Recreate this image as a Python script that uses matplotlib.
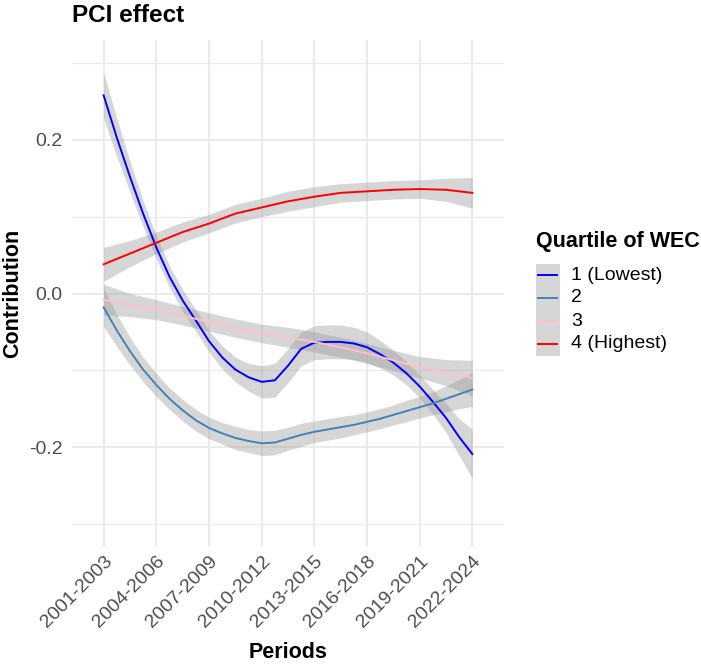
import matplotlib
matplotlib.use('Agg')
import matplotlib.pyplot as plt
from matplotlib.patches import Rectangle
from matplotlib.lines import Line2D

plt.rcParams['font.family'] = ['Liberation Sans', 'DejaVu Sans']

# --- Data (smoothed curves) ---
periods = ['2001-2003', '2004-2006', '2007-2009', '2010-2012',
           '2013-2015', '2016-2018', '2019-2021', '2022-2024']

# quartiles 1 and 2 read at every quarter period (they bend more)
x_fine = [1, 1.25, 1.5, 1.75, 2, 2.25, 2.5, 2.75, 3, 3.25, 3.5, 3.75, 4,
          4.25, 4.5, 4.75, 5, 5.25, 5.5, 5.75, 6, 6.25, 6.5, 6.75, 7,
          7.25, 7.5, 7.75, 8]
# quartiles 3 and 4 read at every half period
x_half = [1, 1.5, 2, 2.5, 3, 3.5, 4, 4.5, 5, 5.5, 6, 6.5, 7, 7.5, 8]

q1 = [0.258, 0.203, 0.152, 0.104, 0.060, 0.022, -0.009, -0.035, -0.062,
      -0.083, -0.099, -0.109, -0.115, -0.113, -0.094, -0.072, -0.064,
      -0.063, -0.063, -0.065, -0.070, -0.079, -0.090, -0.104, -0.121,
      -0.141, -0.162, -0.187, -0.209]
q1_se = [0.030, 0.025, 0.020, 0.017, 0.015, 0.014, 0.014, 0.014, 0.014,
         0.015, 0.016, 0.018, 0.021, 0.022, 0.022, 0.022, 0.022, 0.022,
         0.022, 0.021, 0.020, 0.018, 0.016, 0.015, 0.015, 0.016, 0.019,
         0.024, 0.032]

q2 = [-0.018, -0.048, -0.075, -0.099, -0.119, -0.137, -0.152, -0.165,
      -0.175, -0.182, -0.188, -0.192, -0.195, -0.194, -0.189, -0.184,
      -0.180, -0.177, -0.174, -0.171, -0.167, -0.163, -0.158, -0.153,
      -0.148, -0.143, -0.137, -0.131, -0.125]
q2_se = [0.025, 0.021, 0.018, 0.016, 0.015, 0.014, 0.014, 0.014, 0.014,
         0.014, 0.015, 0.015, 0.016, 0.016, 0.015, 0.015, 0.014, 0.014,
         0.014, 0.013, 0.013, 0.013, 0.013, 0.014, 0.014, 0.015, 0.017,
         0.019, 0.022]

q3 = [-0.008, -0.015, -0.021, -0.029, -0.037, -0.045, -0.052, -0.057,
      -0.063, -0.070, -0.078, -0.087, -0.096, -0.103, -0.110]
q3_se = [0.020, 0.015, 0.013, 0.012, 0.012, 0.012, 0.012, 0.013,
         0.013, 0.013, 0.013, 0.013, 0.014, 0.017, 0.023]

q4 = [0.038, 0.052, 0.066, 0.080, 0.091, 0.104, 0.112, 0.120,
      0.126, 0.131, 0.133, 0.135, 0.136, 0.135, 0.131]
q4_se = [0.022, 0.017, 0.014, 0.013, 0.012, 0.012, 0.012, 0.013,
         0.013, 0.012, 0.012, 0.012, 0.012, 0.015, 0.020]

series_x = [x_fine, x_fine, x_half, x_half]
series = [q1, q2, q3, q4]
series_se = [q1_se, q2_se, q3_se, q4_se]
labels = ['1 (Lowest)', '2', '3', '4 (Highest)']
colors = ['#0000ff', '#4682b4', '#ffc0cb', '#ff0000']

W, H = 701, 666
fig = plt.figure(figsize=(W / 100, H / 100), dpi=100)
ax = fig.add_axes([72 / W, 1 - 547 / H, (504 - 72) / W, (547 - 40) / H])

for xs, y, se, c in zip(series_x, series, series_se, colors):
    lo = [a - b for a, b in zip(y, se)]
    hi = [a + b for a, b in zip(y, se)]
    ax.fill_between(xs, lo, hi, color='#999999', alpha=0.4, lw=0)
    ax.plot(xs, y, color=c, lw=1.4, solid_joinstyle='round')

ax.set_xlim(0.4, 8.6)
ax.set_ylim(-0.33, 0.33)
ax.set_xticks(range(1, 9))
ax.set_xticklabels(periods, rotation=45, ha='right', va='top',
                   rotation_mode='anchor')
ax.set_yticks([-0.2, 0.0, 0.2])
ax.set_yticklabels(['-0.2', '0.0', '0.2'])
ax.set_yticks([-0.3, -0.1, 0.1, 0.3], minor=True)
ax.tick_params(axis='both', which='both', length=0, labelsize=14,
               labelcolor='#4d4d4d')
ax.tick_params(axis='x', pad=4)
ax.tick_params(axis='y', pad=7)
ax.grid(True, which='major', color='#ebebeb', lw=1.4)
ax.grid(True, which='minor', axis='y', color='#ebebeb', lw=0.9)
ax.set_axisbelow(True)
for s in ax.spines.values():
    s.set_visible(False)

# titles
fig.text(72 / W, 1 - 15 / H, 'PCI effect', fontsize=17.5, fontweight='bold',
         ha='left', va='center')
fig.text(13 / W, 1 - 293 / H, 'Contribution', fontsize=15.5, fontweight='bold',
         rotation=90, ha='center', va='center')
fig.text(288 / W, 1 - 652 / H, 'Periods', fontsize=15.5, fontweight='bold',
         ha='center', va='center')

# legend (ggplot style: grey key background with line)
fig.text(536 / W, 1 - 242 / H, 'Quartile of WEC', fontsize=15.5,
         fontweight='bold', ha='left', va='center')
row_h = 23
top = 263.5
fig.patches.append(Rectangle((536 / W, 1 - (top + 4 * row_h) / H),
                             24 / W, 4 * row_h / H, transform=fig.transFigure,
                             facecolor='#d6d6d6', edgecolor='none'))
for i, (lab, c) in enumerate(zip(labels, colors)):
    yc = top + row_h * (i + 0.5)
    fig.add_artist(Line2D([538 / W, 557 / W], [1 - yc / H, 1 - yc / H],
                          transform=fig.transFigure, color=c, lw=1.4))
    fig.text(571 / W, 1 - yc / H, lab, fontsize=14, ha='left', va='center')

fig.savefig('out.png', dpi=100)
